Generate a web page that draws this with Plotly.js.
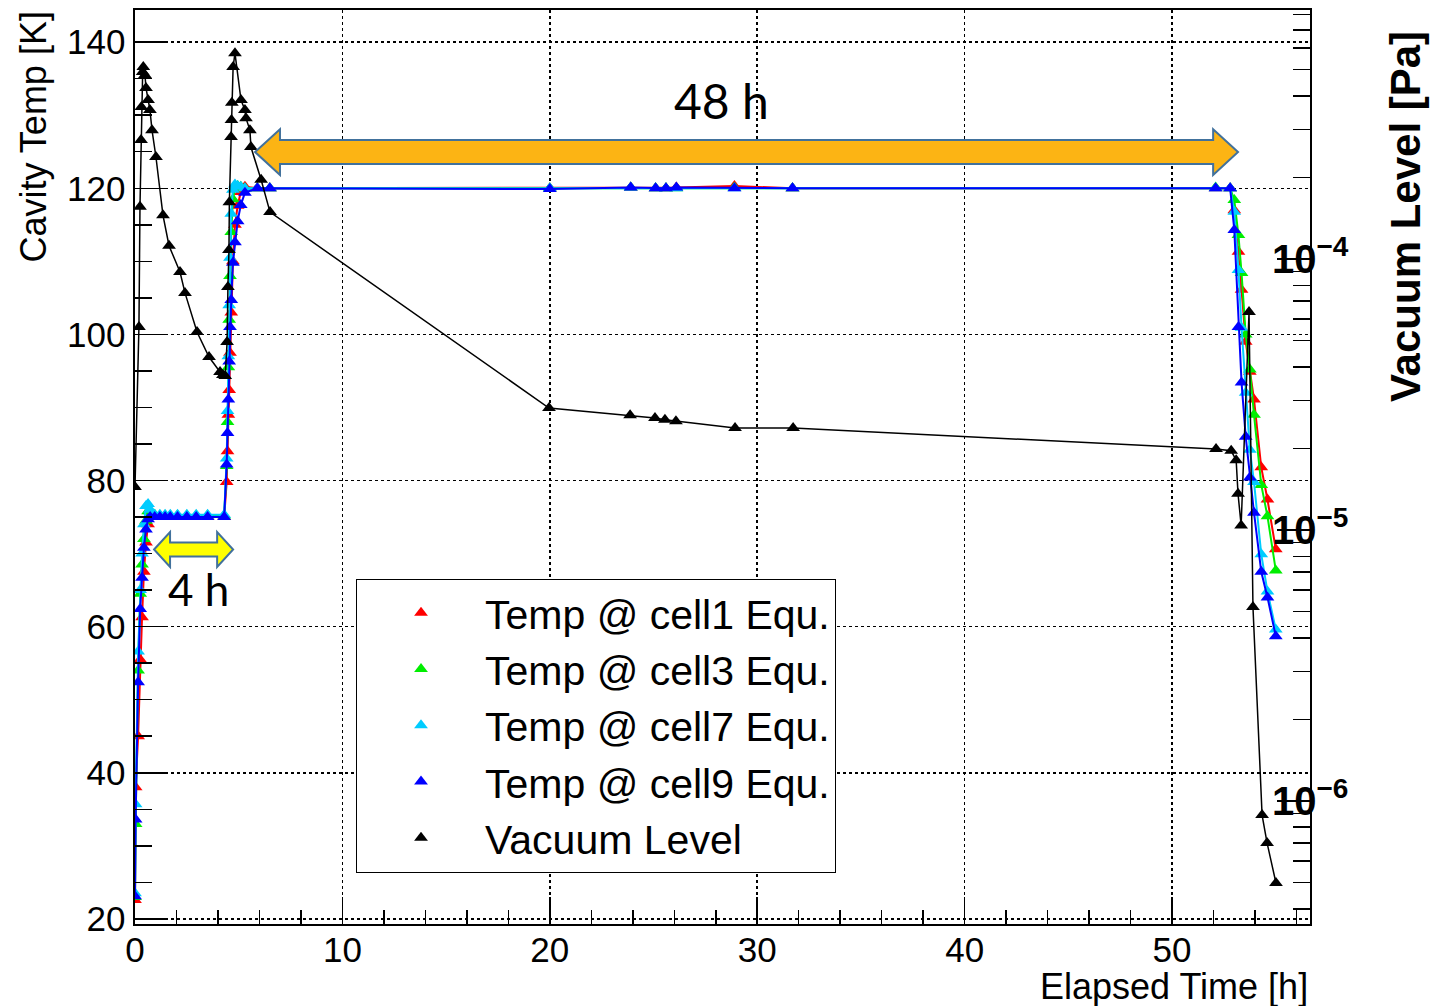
<!DOCTYPE html>
<html><head><meta charset="utf-8">
<script src="https://cdn.plot.ly/plotly-3.0.1.min.js"></script>
<style>html,body{margin:0;padding:0;background:#fff}#chart{width:1450px;height:1006px}</style>
</head><body><div id="chart"></div>
<script>
// ---- data ----
const tempTime = [0.0, 0.03, 0.15, 0.25, 0.34, 0.43, 0.53, 0.63, 0.73, 0.95, 1.2, 1.45, 1.7, 2.05, 2.5, 2.95, 3.5, 4.3,
  4.42, 4.46, 4.5, 4.54, 4.58, 4.64, 4.72, 4.82, 4.95, 5.1, 5.3, 5.9, 6.5,
  20.0, 23.9, 25.1, 25.6, 26.1, 28.9, 31.7, 52.1, 52.8,
  53.0, 53.2, 53.35, 53.55, 53.75, 53.95, 54.3, 54.6, 55.0];
const cell1 = [22.6, 38.0, 45.0, 55.5, 61.3, 67.5, 71.5, 74.0, 75.2, 75.1, 75.0, 75.1, 75.0, 75.0, 75.1, 75.0, 75.0, 75.0,
  79.8, 84.0, 89.0, 92.4, 97.5, 103.0, 110.0, 115.0, 117.6, 119.5, 120.2, 120.0, 120.0,
  120.0, 120.1, 120.0, 120.0, 120.1, 120.3, 120.0, 120.0, 120.0,
  117.0, 111.3, 106.1, 99.0, 94.9, 91.1, 81.8, 77.4, 70.6];
const cell3 = [23.0, 33.0, 54.0, 64.5, 68.5, 72.0, 74.5, 75.8, 75.8, 75.3, 75.2, 75.2, 75.2, 75.2, 75.2, 75.2, 75.2, 75.2,
  82.0, 88.0, 95.5, 102.0, 108.0, 114.0, 118.5, 120.0, 120.3, 120.2, 120.0, 120.0, 120.0,
  120.0, 120.1, 120.0, 120.0, 120.0, 120.1, 120.0, 120.1, 120.0,
  118.4, 113.6, 108.4, 100.0, 95.2, 89.0, 79.4, 75.1, 67.7];
const cell7 = [23.5, 35.7, 56.6, 65.0, 70.0, 74.0, 76.5, 76.8, 76.0, 75.3, 75.3, 75.3, 75.3, 75.3, 75.3, 75.3, 75.3, 75.3,
  83.0, 89.5, 97.0, 104.0, 110.5, 116.5, 119.8, 120.5, 120.3, 120.2, 120.0, 120.0, 120.0,
  120.0, 120.1, 120.0, 120.0, 120.0, 120.0, 120.0, 120.0, 120.0,
  116.8, 108.8, 100.9, 92.0, 84.2, 79.8, 69.9, 64.8, 59.6];
const cell9 = [23.1, 33.6, 52.4, 62.4, 66.7, 70.8, 73.3, 74.7, 75.0, 75.0, 75.0, 75.0, 75.0, 75.0, 75.0, 75.0, 75.0, 75.0,
  82.2, 86.5, 91.1, 96.3, 101.0, 104.7, 109.8, 112.6, 115.5, 117.7, 119.4, 120.0, 120.0,
  119.9, 120.1, 120.0, 120.0, 120.1, 120.0, 120.0, 120.0, 120.0,
  114.3, 101.0, 93.4, 86.0, 80.4, 75.6, 67.5, 64.0, 58.7];
const vacTime = [0.0, 0.19, 0.24, 0.29, 0.31, 0.37, 0.40, 0.48, 0.53, 0.63, 0.72, 0.82, 1.01, 1.35, 1.64, 2.17, 2.41, 2.99, 3.57, 4.10, 4.24, 4.35,
  4.44, 4.48, 4.53, 4.55, 4.63, 4.65, 4.67, 4.73, 4.82, 5.11, 5.30, 5.35, 5.54, 5.59, 6.08, 6.51,
  19.96, 23.87, 25.07, 25.55, 26.08, 28.93, 31.73, 52.12, 52.85, 53.09, 53.18, 53.33, 53.71, 53.90, 54.34, 54.58, 55.01];
const vacuum = [1.44e-5, 5.61e-5, 1.56e-4, 2.75e-4, 3.64e-4, 4.90e-4, 5.11e-4, 4.78e-4, 4.28e-4, 3.86e-4, 3.55e-4, 2.99e-4, 2.38e-4, 1.45e-4, 1.12e-4, 8.95e-5, 7.50e-5, 5.38e-5, 4.35e-5, 3.83e-5, 3.73e-5, 3.70e-5,
  4.94e-5, 7.88e-5, 1.08e-4, 1.62e-4, 2.82e-4, 3.26e-4, 3.77e-4, 5.11e-4, 5.75e-4, 3.86e-4, 3.55e-4, 3.31e-4, 2.99e-4, 2.59e-4, 1.96e-4, 1.49e-4,
  2.82e-5, 2.65e-5, 2.59e-5, 2.55e-5, 2.52e-5, 2.38e-5, 2.38e-5, 1.99e-5, 1.96e-5, 1.81e-5, 1.36e-5, 1.04e-5, 6.37e-5, 5.20e-6, 8.87e-7, 7.00e-7, 4.98e-7];
const seriesNames = ['Temp @ cell1 Equ.', 'Temp @ cell3 Equ.', 'Temp @ cell7 Equ.', 'Temp @ cell9 Equ.', 'Vacuum Level'];
const tempTickVals = [20, 40, 60, 80, 100, 120, 140];
const extraTempTickVals = [75];
const extraTempTickText = ['75'];
const vacTickVals = [1e-6, 1e-5, 1e-4];
const vacTickText = ['10<sup>\u22126</sup>', '10<sup>\u22125</sup>', '10<sup>\u22124</sup>'];
const xTickVals = [0, 10, 20, 30, 40, 50];
const annotTexts = ['48 h', '4 h'];
const axisTitles = ['Elapsed Time [h]', 'Cavity Temp [K]', 'Vacuum Level [Pa]'];

// ---- styling ----
const colors = ['#ff0000', '#00ee00', '#00ccff', '#0000ff', '#000000'];
const FONT = '"Liberation Sans", Arial, Helvetica, sans-serif';
const TRANGE = [19.3, 144.4];
const VRANGE = [-6.454, -3.081];

function series(x, y, color, name, yaxis, lw) {
  return [
    {x: x, y: y, type: 'scatter', mode: 'lines', yaxis: yaxis, line: {color: color, width: lw}, showlegend: false, hoverinfo: 'skip'},
    {x: x, y: y, type: 'scatter', mode: 'markers', yaxis: yaxis, name: name, legendgroup: name,
     marker: {symbol: 'triangle-up', size: 12, color: color, line: {width: 0}}}
  ];
}
const tempSeries = [cell1, cell3, cell7, cell9];
let data = [];
tempSeries.forEach((s, i) => { data = data.concat(series(tempTime, s, colors[i], seriesNames[i], 'y', 2)); });
data = data.concat(series(vacTime, vacuum, colors[4], seriesNames[4], 'y2', 1.5));

const minorVac = [];
for (let e = -7; e <= -4; e++) for (let m = 2; m <= 9; m++) minorVac.push(m * Math.pow(10, e));

function arrowPath(x0, x1, yc, headLen, headHalf, shaftHalf) {
  const p = [[x0, yc], [x0 + headLen, yc + headHalf], [x0 + headLen, yc + shaftHalf], [x1 - headLen, yc + shaftHalf],
    [x1 - headLen, yc + headHalf], [x1, yc], [x1 - headLen, yc - headHalf], [x1 - headLen, yc - shaftHalf],
    [x0 + headLen, yc - shaftHalf], [x0 + headLen, yc - headHalf]];
  return 'M' + p.map(q => q[0] + ',' + q[1]).join('L') + 'Z';
}

const tickCommon = {ticks: 'inside', tickwidth: 1.5, tickcolor: '#000', showline: true, linewidth: 2, linecolor: '#000', zeroline: false};

const layout = {
  width: 1450, height: 1006,
  margin: {l: 135, r: 140, t: 10, b: 82, pad: 0},
  paper_bgcolor: '#fff', plot_bgcolor: '#fff',
  font: {family: FONT, color: '#000'},
  showlegend: true,
  legend: {x: 0.1881, y: 0.378, xanchor: 'left', yanchor: 'top', bgcolor: '#fff', bordercolor: '#000', borderwidth: 1,
    font: {size: 41, family: FONT}, itemwidth: 118, tracegroupgap: 0, valign: 'middle'},
  xaxis: Object.assign({}, tickCommon, {range: [0, 56.65], tickmode: 'array', tickvals: xTickVals, ticklen: 27, mirror: true,
    showgrid: true, gridcolor: '#000', griddash: 'dot', gridwidth: 1.5, tickfont: {size: 35}, ticklabelstandoff: -6,
    minor: {dtick: 2, tick0: 0, ticks: 'inside', ticklen: 14, tickwidth: 1.5, tickcolor: '#000', showgrid: false}}),
  yaxis: Object.assign({}, tickCommon, {range: TRANGE, tickmode: 'array', tickvals: tempTickVals, ticklen: 33, mirror: false,
    linewidth: 2.5, showgrid: true, gridcolor: '#000', griddash: 'dot', gridwidth: 1.5, tickfont: {size: 35},
    minor: {dtick: 5, tick0: 0, ticks: 'inside', ticklen: 17, tickwidth: 1.5, tickcolor: '#000', showgrid: false}}),
  yaxis2: Object.assign({}, tickCommon, {overlaying: 'y', side: 'right', type: 'log', range: VRANGE, tickmode: 'array',
    tickvals: vacTickVals, ticktext: vacTickText, ticklen: 33, showgrid: false, tickfont: {size: 40, weight: 'bold'},
    ticklabelstandoff: -48,
    minor: {tickmode: 'array', tickvals: minorVac, ticks: 'inside', ticklen: 17, tickwidth: 1.5, tickcolor: '#000', showgrid: false}}),
  yaxis3: {overlaying: 'y', side: 'left', range: TRANGE, tickmode: 'array', tickvals: extraTempTickVals, ticktext: extraTempTickText,
    ticks: '', showgrid: false, showline: false, zeroline: false, tickfont: {size: 35}},
  shapes: [
    {type: 'path', xref: 'x', yref: 'y', layer: 'above', path: arrowPath(5.79, 53.18, 124.95, 1.2, 3.14, 1.64),
     fillcolor: '#fcb414', line: {color: '#41719c', width: 2}},
    {type: 'path', xref: 'x', yref: 'y', layer: 'above', path: arrowPath(0.92, 4.73, 70.56, 0.77, 2.39, 0.96),
     fillcolor: '#ffff00', line: {color: '#41719c', width: 2}}
  ],
  annotations: [
    {xref: 'x', yref: 'y', x: 28.3, y: 132.0, text: annotTexts[0], showarrow: false, font: {family: 'Lato, sans-serif', size: 48}},
    {xref: 'x', yref: 'y', x: 3.04, y: 65.1, text: annotTexts[1], showarrow: false, font: {family: 'Lato, sans-serif', size: 44}},
    {xref: 'paper', yref: 'paper', x: 1, y: -0.0689, xanchor: 'right', yanchor: 'middle', text: axisTitles[0], showarrow: false, font: {size: 36}},
    {xref: 'paper', yref: 'paper', x: -0.0868, y: 1, xanchor: 'center', yanchor: 'top', textangle: -90, text: axisTitles[1], showarrow: false, font: {size: 36}},
    {xref: 'paper', yref: 'paper', x: 1.0809, y: 0.7735, xanchor: 'center', yanchor: 'middle', textangle: -90, text: '<b>' + axisTitles[2] + '</b>', showarrow: false, font: {size: 42}}
  ]
};
Plotly.newPlot('chart', data, layout, {displayModeBar: false, staticPlot: true});
</script></body></html>
